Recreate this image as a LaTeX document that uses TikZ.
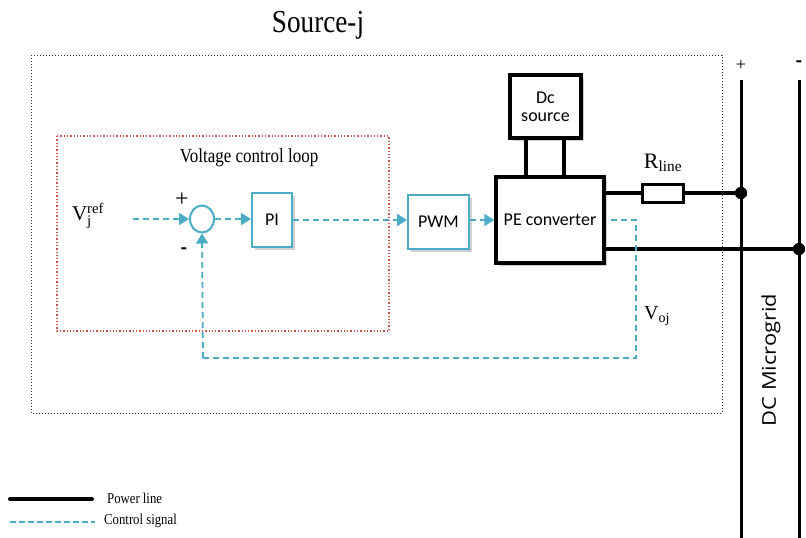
\documentclass[tikz,border=0pt]{standalone}
\usepackage{fontspec}
\setmainfont{Liberation Serif}
\newfontfamily\cond[FakeStretch=0.85]{Liberation Serif}
\newfontfamily\carl{Carlito}
\newfontfamily\geo[FakeStretch=1.15]{Open Sans}
\usetikzlibrary{arrows.meta,calc,shapes.geometric}
\definecolor{ctl}{RGB}{75,172,198}
\definecolor{loopred}{RGB}{205,85,75}
\tikzset{
  pw/.style={line width=4.5pt, black},
  bus/.style={line width=3pt, black},
  sig/.style={ctl, line width=1.8pt, dash pattern=on 6pt off 4pt},
  sigarrow/.style={sig, -{Triangle[length=10pt,width=12pt]}},
  shd/.style={preaction={fill=black!18, transform canvas={shift={(3pt,-3pt)}}}},
  tealbox/.style={draw=ctl, line width=2pt, fill=white, inner sep=0pt, shd,
    font=\carl\fontsize{18}{20}\selectfont},
  blackbox/.style={draw=black, line width=3.5pt, fill=white, inner sep=0pt, shd,
    font=\carl\fontsize{18}{20}\selectfont, align=center},
  sertext/.style={font=\cond\fontsize{#1}{#1}\selectfont, inner sep=0pt},
  dotjn/.style={circle, fill=black, inner sep=0pt, minimum size=12pt},
}
\begin{document}
\begin{tikzpicture}[x=1pt,y=-1pt]
\useasboundingbox (0,0) rectangle (806,538);
% title
\node[sertext=32] (title) at (318,25) {Source-j};
% outer dotted box
\draw[black!80, line width=1pt, dotted] (31,55) rectangle (722,413);
% voltage control loop box
\draw[loopred, line width=1.3pt, dotted] (57,136) rectangle (389,331);
\node[sertext=20] (vcl) at (249,158) {Voltage control loop};
% blocks
\node[blackbox, minimum width=71pt, minimum height=63pt] (src) at (545.5,106.5) {Dc\\[-2pt]source};
\node[blackbox, minimum width=108pt, minimum height=86pt] (pe) at (550,220) {PE converter};
\node[tealbox, minimum width=61pt, minimum height=54pt] (pwm) at (438.5,222) {PWM};
\node[tealbox, minimum width=40pt, minimum height=54pt] (pi) at (272,220) {PI};
\node[ellipse, draw=ctl, line width=2pt, minimum width=24pt, minimum height=27pt, inner sep=0pt, fill=white] (sum) at (202,219) {};
\node[draw=black, line width=3pt, fill=white, minimum width=41pt, minimum height=18pt, inner sep=0pt] (res) at (662.5,193) {};
% buses
\coordinate (bpt) at (741,80);
\coordinate (bpb) at (741,538);
\coordinate (bmt) at (799,80);
\coordinate (bmb) at (799,538);
\draw[bus] (bpt) -- (bpb);
\draw[bus] (bmt) -- (bmb);
\node[dotjn] (jp) at (741,193) {};
\node[dotjn] (jm) at (799,249) {};
\node[font=\fontsize{18}{18}\selectfont, inner sep=0pt] (plus) at (741,65) {+};
\node[font=\carl\bfseries\fontsize{20}{20}\selectfont, inner sep=0pt] (minus) at (799,64) {-};
\node[rotate=90, font=\geo\fontsize{19}{19}\selectfont, inner sep=0pt] (dcm) at (771,360) {DC Microgrid};
% power connections
\draw[pw] ([xshift=-19.5pt]src.south) -- ([xshift=-19.5pt]src.south |- pe.north);
\draw[pw] ([xshift=18.5pt]src.south) -- ([xshift=18.5pt]src.south |- pe.north);
\draw[pw] (pe.east |- res) -- (res.west);
\draw[pw] (res.east) -- (jp.center);
\draw[pw] (pe.east |- jm) -- (jm.center);
\node[dotjn] at (jp) {};
\node[dotjn] at (jm) {};
\node[font=\fontsize{22}{22}\selectfont, inner sep=0pt] (rl) at (663,163) {R\textsubscript{line}};
% control signals
\coordinate (vin) at (133,219);
\node[font=\fontsize{21}{21}\selectfont, inner sep=0pt] (vref) at (88,216) {$\mathrm{V}_{\mathrm{j}}^{\mathrm{ref}}$};
\draw[sigarrow] (vin) -- (sum.west);
\draw[sigarrow] (sum.east) -- (pi.west |- sum);
\draw[sigarrow] (pi.east) -- (pwm.west |- pi.east);
\draw[sigarrow] (pwm.east |- pi.east) -- (pe.west |- pi.east);
\coordinate (fb0) at (611,220);
\coordinate (fb1) at (636,220);
\coordinate (fb2) at (636,358);
\coordinate (fb3) at (203,358);
\draw[sig] (fb0) -- (fb1) -- (fb2) -- (fb3);
\draw[sigarrow] (fb3) -- (sum.south);
\node[font=\fontsize{24}{24}\selectfont, inner sep=0pt] (sp) at (182,200) {+};
\node[font=\carl\bfseries\fontsize{20}{20}\selectfont, inner sep=0pt] (sm) at (184,251) {-};
\node[font=\fontsize{20}{20}\selectfont, inner sep=0pt] (voj) at (657,316) {$\mathrm{V}_{\mathrm{oj}}$};
% legend
\coordinate (l1a) at (10,499);
\coordinate (l1b) at (92,499);
\coordinate (l2a) at (10,522);
\coordinate (l2b) at (95,522);
\draw[line width=4pt, line cap=round] (l1a) -- (l1b);
\draw[ctl, line width=1.5pt, dash pattern=on 6pt off 3pt] (l2a) -- (l2b);
\node[sertext=15, anchor=west] (lg1) at (107,498) {Power line};
\node[sertext=15, anchor=west] (lg2) at (104,521) {Control signal};
\end{tikzpicture}
\end{document}
